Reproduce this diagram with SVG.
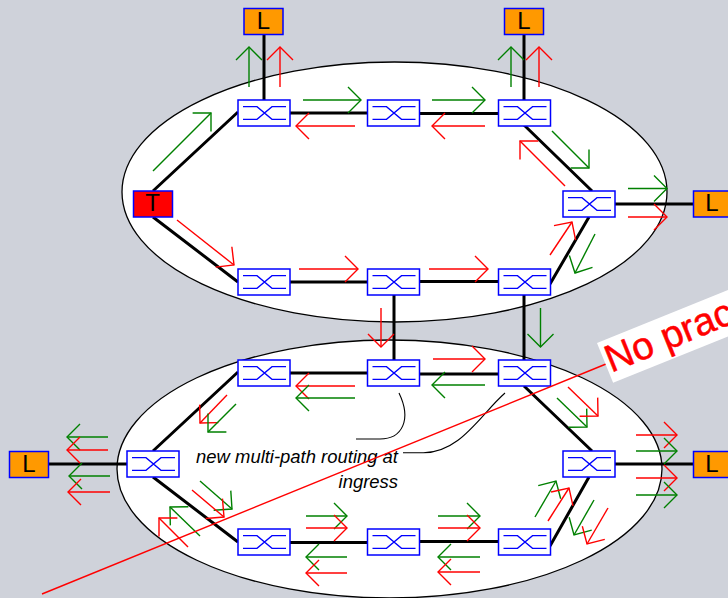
<svg xmlns="http://www.w3.org/2000/svg" width="728" height="598" viewBox="0 0 728 598">
<style>
.e{fill:#fff;stroke:#000;stroke-width:1.3}
.c{stroke:#000;stroke-width:3;fill:none}
.s{fill:#fff;stroke:#0000ff;stroke-width:1.5}
.x{fill:none;stroke:#0000ff;stroke-width:1.3}
.o{fill:#ff9900;stroke:#0000ff;stroke-width:1.5}
.t{fill:#ff0000;stroke:#0000ff;stroke-width:1.5}
.n{font-family:"Liberation Sans",Arial,sans-serif;font-size:24px;text-anchor:middle;fill:#000}
.g{stroke:#008000;stroke-width:1.4;fill:none;marker-end:url(#mg)}
.r{stroke:#ff0000;stroke-width:1.4;fill:none;marker-end:url(#mr)}
.l{font-family:"Liberation Sans",Arial,sans-serif;font-size:18.45px;font-style:italic;text-anchor:end;fill:#000}
.k{fill:none;stroke:#000;stroke-width:1.1}
</style>
<defs>
<marker id="mg" markerUnits="userSpaceOnUse" markerWidth="30" markerHeight="30" viewBox="-15 -15 30 30" refX="0" refY="0" orient="auto"><path d="M-13,-13L0,0L-13,13" fill="none" stroke="#008000" stroke-width="1.4"/></marker>
<marker id="mr" markerUnits="userSpaceOnUse" markerWidth="30" markerHeight="30" viewBox="-15 -15 30 30" refX="0" refY="0" orient="auto"><path d="M-13,-13L0,0L-13,13" fill="none" stroke="#ff0000" stroke-width="1.4"/></marker>
<g id="sw"><rect class="s" x="-26" y="-13" width="52" height="26"/><path class="x" d="M-21,-6.3H-7L8,6.3H22M-21,6.3H-7L8,-6.3H22"/></g>
</defs>
<rect width="728" height="598" fill="#cfd2da"/>
<ellipse class="e" cx="394.5" cy="192" rx="272.5" ry="130"/>
<ellipse class="e" cx="389.5" cy="469" rx="272.5" ry="129"/>
<g id="connectors">
<path class="c" d="M264,34V100M524,34V100M153,191L238,112M289,113H368M419,113.5H498M524,125L592,191M615,204H693M589,217L550,284M153,217L238,282M289,282H368M419,281.5H498M394,295V360M524,295V360M49,464H127M153,451L238,372M289,373H368M419,374H498M524,386L592,451M615,464H693M589,477L550,546M153,477L238,542M289,542.5H368M419,541.5H498"/>
</g>
<g id="flows">
<line class="g" x1="249" y1="87" x2="249" y2="47"/><line class="r" x1="280" y1="87" x2="280" y2="47"/>
<line class="g" x1="303" y1="100" x2="361" y2="100"/><line class="r" x1="355" y1="126" x2="296" y2="126"/>
<line class="g" x1="153" y1="171" x2="211" y2="113"/><line class="r" x1="177" y1="220" x2="234" y2="265"/>
<line class="r" x1="299" y1="269" x2="358" y2="269"/>
<line class="g" x1="432" y1="100" x2="485" y2="100"/><line class="r" x1="485" y1="126" x2="432" y2="126"/>
<line class="g" x1="511" y1="87" x2="511" y2="47"/><line class="r" x1="539" y1="87" x2="539" y2="47"/>
<line class="g" x1="552" y1="131" x2="589" y2="168"/><line class="r" x1="565" y1="186" x2="520" y2="141"/>
<line class="g" x1="628" y1="188.5" x2="667" y2="188.5"/><line class="r" x1="628" y1="217" x2="667" y2="217"/>
<line class="r" x1="550" y1="255" x2="572" y2="222"/><line class="g" x1="595" y1="234" x2="575" y2="273"/>
<line class="r" x1="429" y1="269" x2="488" y2="269"/>
<line class="r" x1="381" y1="308" x2="381" y2="347"/><line class="g" x1="540.5" y1="308" x2="540.5" y2="347"/>
<line class="r" x1="433" y1="359" x2="485" y2="359"/><line class="g" x1="485" y1="385" x2="432" y2="385"/>
<line class="r" x1="355" y1="386" x2="296" y2="386"/><line class="g" x1="355" y1="398" x2="296" y2="398"/>
<line class="g" x1="557" y1="398" x2="587" y2="427"/><line class="r" x1="568" y1="387" x2="598" y2="416"/>
<line class="r" x1="636" y1="435" x2="677" y2="435"/><line class="g" x1="636" y1="451" x2="677" y2="451"/>
<line class="r" x1="636" y1="478" x2="677" y2="478"/><line class="g" x1="636" y1="495" x2="677" y2="495"/>
<line class="g" x1="535" y1="517" x2="556" y2="481"/><line class="r" x1="548" y1="521" x2="569" y2="488"/>
<line class="g" x1="594" y1="500" x2="574" y2="535"/><line class="r" x1="608" y1="508" x2="587" y2="544"/>
<line class="g" x1="306" y1="516" x2="347" y2="516"/><line class="r" x1="306" y1="528" x2="347" y2="528"/>
<line class="g" x1="438" y1="516" x2="480" y2="516"/><line class="r" x1="438" y1="528" x2="480" y2="528"/>
<line class="g" x1="347" y1="557" x2="306" y2="557"/><line class="r" x1="347" y1="573" x2="306" y2="573"/>
<line class="g" x1="480" y1="557" x2="438" y2="557"/><line class="r" x1="480" y1="572" x2="438" y2="572"/>
<line class="g" x1="108" y1="437" x2="67" y2="437"/><line class="r" x1="108" y1="450" x2="67" y2="450"/>
<line class="g" x1="110" y1="476" x2="69" y2="476"/><line class="r" x1="110" y1="492" x2="68" y2="492"/>
<line class="r" x1="227" y1="395" x2="200" y2="423"/><line class="g" x1="236" y1="404" x2="208" y2="432"/>
<line class="g" x1="200" y1="481" x2="232" y2="509"/><line class="r" x1="192" y1="490" x2="224" y2="517"/>
<line class="g" x1="200" y1="536" x2="170" y2="507"/><line class="r" x1="188" y1="547" x2="159" y2="518"/>
</g>
<g id="s1"><use href="#sw" x="264" y="113"/></g>
<g id="s2"><use href="#sw" x="393.5" y="113"/></g>
<g id="s3"><use href="#sw" x="524.5" y="113"/></g>
<g id="s4"><use href="#sw" x="589" y="204"/></g>
<g id="s5"><use href="#sw" x="264" y="282"/></g>
<g id="s6"><use href="#sw" x="393.5" y="282"/></g>
<g id="s7"><use href="#sw" x="524.5" y="282"/></g>
<g id="s8"><use href="#sw" x="264" y="373"/></g>
<g id="s9"><use href="#sw" x="393.5" y="373"/></g>
<g id="s10"><use href="#sw" x="524.5" y="373"/></g>
<g id="s11"><use href="#sw" x="153" y="464"/></g>
<g id="s12"><use href="#sw" x="589" y="464"/></g>
<g id="s13"><use href="#sw" x="264" y="542"/></g>
<g id="s14"><use href="#sw" x="393.5" y="542"/></g>
<g id="s15"><use href="#sw" x="524.5" y="542"/></g>
<g id="T"><rect class="t" x="133.5" y="191" width="39" height="26"/><text class="n" x="152.500" y="211">T</text></g>
<g id="L1"><rect class="o" x="244" y="8.5" width="39" height="26"/><text class="n" x="263.500" y="29">L</text></g>
<g id="L2"><rect class="o" x="504.500" y="8.500" width="39" height="26"/><text class="n" x="524" y="29">L</text></g>
<g id="L3"><rect class="o" x="693.500" y="191" width="39" height="26"/><text class="n" x="712" y="211">L</text></g>
<g id="L4"><rect class="o" x="9.500" y="451.500" width="39" height="26"/><text class="n" x="29" y="472">L</text></g>
<g id="L5"><rect class="o" x="693.500" y="451.500" width="39" height="26"/><text class="n" x="712" y="472">L</text></g>
<path class="k" d="M399,393C412,420 402,439 380,439H356"/>
<path class="k" d="M505,393C480,415 460,453 423,452.700H403"/>
<text class="l" x="398" y="463">new multi-path routing at</text>
<text class="l" x="398" y="488">ingress</text>
<g id="note">
<line x1="42" y1="594" x2="606" y2="364" stroke="#ff0000" stroke-width="1.4"/>
<g transform="translate(597,343) rotate(-22)">
<rect x="0" y="0" width="200" height="43" fill="#fff"/>
<text x="2" y="33" font-family="Liberation Sans, Arial, sans-serif" font-size="38.5" fill="#ff0000" stroke="#ff0000" stroke-width="0.5">No pract</text>
</g>
</g>
</svg>
